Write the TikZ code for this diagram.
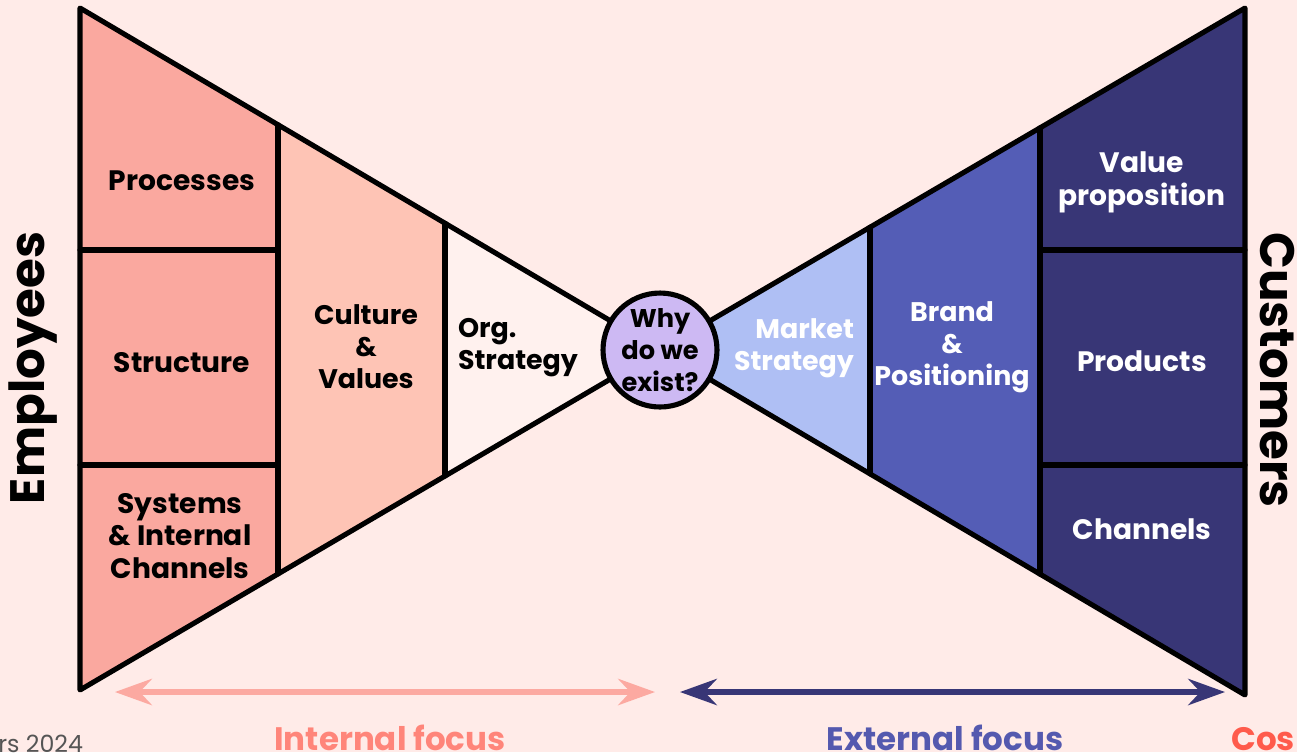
\documentclass[tikz,border=0pt]{standalone}
\usepackage{fontspec}
\setmainfont{Poppins}
\usetikzlibrary{calc,arrows.meta}
\definecolor{bg}{HTML}{FFEBE8}
\definecolor{salmon}{HTML}{FAA89F}
\definecolor{peach}{HTML}{FEC4B5}
\definecolor{blush}{HTML}{FFF1EE}
\definecolor{lavender}{HTML}{CDB9F3}
\definecolor{skyblue}{HTML}{AFBFF4}
\definecolor{indigo}{HTML}{545DB6}
\definecolor{navy}{HTML}{383676}
\definecolor{pinkarrow}{HTML}{FCA9A1}
\definecolor{internal}{HTML}{FF857A}
\definecolor{external}{HTML}{5459AF}
\definecolor{coral}{HTML}{FF5B4C}
\definecolor{credit}{HTML}{555555}
\begin{document}
\begin{tikzpicture}[x=0.02cm,y=-0.02cm,
  outline/.style={draw=black,line width=2.9pt,line join=round,line cap=round},
  label/.style={align=center,font=\bfseries\fontsize{16}{18.7}\selectfont,inner sep=0pt},
  midlabel/.style={label,font=\bfseries\fontsize{15.3}{18.2}\selectfont},
  side/.style={font=\bfseries\fontsize{27.5}{30}\selectfont,inner sep=0pt},
  focus/.style={font=\bfseries\fontsize{18.5}{20}\selectfont,inner sep=0pt},
  span/.style={line width=3pt,{Stealth[length=21pt,width=15pt,inset=7pt]}-{Stealth[length=21pt,width=15pt,inset=7pt]}}]
\useasboundingbox[fill=bg] (0,0) rectangle (1297,752);

% corners of the two funnels and their common apex
\coordinate (A) at (660,350);
\coordinate (LT) at (80,8);
\coordinate (LB) at (80,690);
\coordinate (RT) at (1245,8);
\coordinate (RB) at (1245,695);
% column boundaries along the slanted edges
\coordinate (l1t) at ($(LT)!0.3414!(A)$);
\coordinate (l1b) at ($(LB)!0.3414!(A)$);
\coordinate (l2t) at ($(LT)!0.6293!(A)$);
\coordinate (l2b) at ($(LB)!0.6293!(A)$);
\coordinate (r1t) at ($(RT)!0.3504!(A)$);
\coordinate (r1b) at ($(RB)!0.3504!(A)$);
\coordinate (r2t) at ($(RT)!0.6410!(A)$);
\coordinate (r2b) at ($(RB)!0.6410!(A)$);

% column fills
\fill[salmon] (LT) -- (l1t) -- (l1b) -- (LB) -- cycle;
\fill[peach] (l1t) -- (l2t) -- (l2b) -- (l1b) -- cycle;
\fill[blush] (l2t) -- (A) -- (l2b) -- cycle;
\fill[skyblue] (A) -- (r2t) -- (r2b) -- cycle;
\fill[indigo] (r2t) -- (r1t) -- (r1b) -- (r2b) -- cycle;
\fill[navy] (r1t) -- (RT) -- (RB) -- (r1b) -- cycle;

% dividers
\draw[outline] (l1t) -- (l1b) (l2t) -- (l2b) (r1t) -- (r1b) (r2t) -- (r2b);
\draw[outline] (80,250) -- (l1t |- 0,250) (80,465) -- (l1t |- 0,465);
\draw[outline] (r1t |- 0,250) -- (1245,250) (r1t |- 0,465) -- (1245,465);
% funnel outlines
\draw[outline] (LT) -- (A) -- (LB) -- cycle;
\draw[outline] (RT) -- (A) -- (RB) -- cycle;

% centre
\node[circle,outline,fill=lavender,minimum size=2.28cm,label,font=\bfseries\fontsize{14.6}{18}\selectfont] (why) at (A) {Why\\do we\\exist?};

% internal side
\node[label] (proc) at (182,181) {Processes};
\node[label] (struct) at (182,363) {Structure};
\node[label] (sys) at (180,536) {Systems\\\& Internal\\Channels};
\node[midlabel] (cult) at (366,347) {Culture\\\&\\Values};
\node[midlabel,align=left] (org) at (518,348) {Org.\\Strategy};
\node[side,rotate=90] (emp) at (33,368) {Employees};

% external side
\node[midlabel,align=right,text=white] (mkt) at (794,348) {Market\\Strategy};
\node[midlabel,text=white] (brand) at (952,347) {Brand\\\&\\Positioning};
\node[label,text=white] (vp) at (1142,182) {Value\\proposition};
\node[label,text=white] (prod) at (1142,361) {Products};
\node[label,text=white] (chan) at (1142,529) {Channels};
\node[side,rotate=-90] (cust) at (1277,370) {Customers};

% focus ranges
\coordinate (ia) at (115,692);
\coordinate (ib) at (655,692);
\coordinate (ea) at (680,692);
\coordinate (eb) at (1225,692);
\draw[span,pinkarrow] (ia) -- (ib);
\draw[span,navy] (ea) -- (eb);
\node[focus,text=internal,anchor=base] (intf) at (390,750) {Internal focus};
\node[focus,text=external,anchor=base] (extf) at (945,750) {External focus};
\node[focus,text=coral,anchor=base west] (cos) at (1231,750) {Cos};
\node[anchor=base west,inner sep=0pt,text=credit,font=\fontsize{13.5}{15}\selectfont] (credit) at (-2,752) {rs 2024};
\end{tikzpicture}
\end{document}
